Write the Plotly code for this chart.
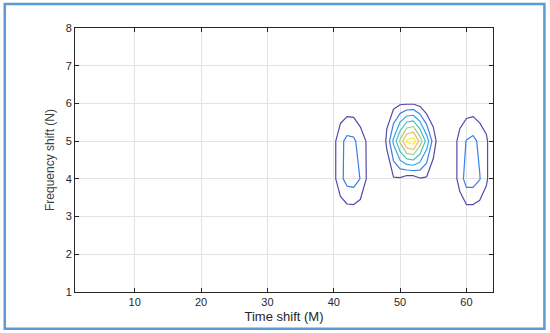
import plotly.graph_objects as go

# Grid (time shift M, frequency shift N) of the non-zero region
time_shift = list(range(38, 65))
freq_shift = [3, 4, 5, 6]

# Ambiguity magnitude values, rows follow freq_shift, columns follow time_shift
z_row_n3 = [0, 0, 0.1, 0.2, 0.3, 0.3, 0.2, 0.1, 0, 0, 0, 0, 0, 0, 0, 0, 0, 0, 0, 0,
            0.1, 0.2, 0.3, 0.3, 0.2, 0.1, 0]
z_row_n4 = [0, 0.2, 0.7, 1.7, 2.4, 2.5, 1.97, 0.89, 0.3, 0.1, 0.3, 0.9, 0.85, 0.4, 0.4, 0.9,
            0.85, 0.3, 0.1, 0.1, 0.5, 1.4, 2.5, 2.5, 2.05, 1.2, 0.1]
z_row_n5 = [0, 0.2, 0.7, 1.7, 2.3, 2.2, 1.55, 0.9, 0.3, 0, 1.2, 3.2, 5.2, 7.2, 7.6, 5.6,
            3.6, 1.6, 0.2, 0.1, 0.5, 1.4, 2.05, 2.3, 1.75, 1.2, 0.1]
z_row_n6 = [0, 0, 0.1, 0.2, 0.3, 0.3, 0.1, 0, 0, 0, 0.6, 0.6, 0.85, 0.9, 0.9, 0.6,
            0, 0, 0, 0, 0, 0.2, 0.3, 0.3, 0.2, 0.1, 0]

x_ticks = [10, 20, 30, 40, 50, 60]
y_ticks = [1, 2, 3, 4, 5, 6, 7, 8]

parula = [
    [0.0, "#5548a8"],
    [1/6, "#3a7ee6"],
    [2/6, "#3aa6e2"],
    [3/6, "#40c2c0"],
    [4/6, "#9ccc8a"],
    [5/6, "#f5b860"],
    [1.0, "#f0f030"],
]

fig = go.Figure()
fig.add_trace(go.Contour(
    x=time_shift, y=freq_shift,
    z=[z_row_n3, z_row_n4, z_row_n5, z_row_n6],
    contours=dict(start=1, end=7, size=1, coloring="lines"),
    colorscale=parula, zmin=1, zmax=7,
    line=dict(width=1.2, smoothing=0),
    showscale=False, hoverinfo="skip",
))

axis_common = dict(
    showline=True, linecolor="#262626", linewidth=1, mirror="ticks",
    ticks="inside", ticklen=4, tickcolor="#262626",
    showgrid=True, gridcolor="#e3e3e3", gridwidth=1, zeroline=False,
    automargin=False,
    tickfont=dict(family="Liberation Sans, Arial", size=11, color="#262626"),
)

fig.update_layout(
    width=550, height=333,
    margin=dict(l=75, r=57, t=28, b=41),
    paper_bgcolor="white", plot_bgcolor="white",
    showlegend=False,
    xaxis=dict(range=[1, 64], tickvals=x_ticks,
               title=dict(text="Time shift (M)", standoff=4,
                          font=dict(family="Liberation Sans, Arial", size=13, color="#262626")),
               **axis_common),
    yaxis=dict(range=[1, 8], tickvals=y_ticks,
               title=dict(text="Frequency shift (N)", standoff=8,
                          font=dict(family="Liberation Sans, Arial", size=12, color="#404040")),
               **axis_common),
    shapes=[dict(type="rect", xref="paper", yref="paper",
                 x0=-0.168, x1=1.123, y0=-0.139, y1=1.091,
                 line=dict(color="#5b9bd5", width=2.5), fillcolor="rgba(0,0,0,0)",
                 layer="above")],
)

fig.write_html("out.html", config={"displayModeBar": False},
               post_script="document.body.style.margin='0';")
